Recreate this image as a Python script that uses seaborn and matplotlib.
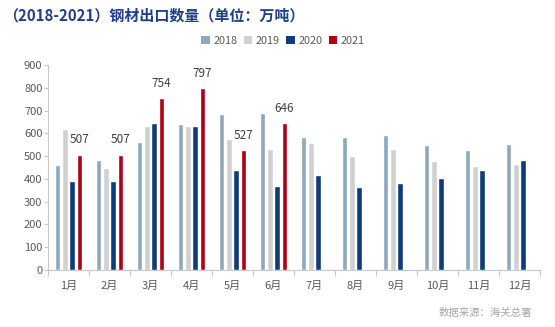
import numpy as np
import pandas as pd
import matplotlib
matplotlib.use("Agg")
import matplotlib.pyplot as plt
import seaborn as sns
from matplotlib.patches import Patch

months = ["1月", "2月", "3月", "4月", "5月", "6月", "7月", "8月", "9月", "10月", "11月", "12月"]
years = ["2018", "2019", "2020", "2021"]
v2018 = [462, 484, 563, 641, 683, 691, 586, 586, 594, 550, 528, 555]
v2019 = [620, 449, 633, 633, 577, 533, 559, 502, 533, 480, 458, 467]
v2020 = [392, 392, 646, 633, 440, 370, 418, 365, 383, 405, 440, 484]
v2021 = [507, 507, 754, 797, 527, 646, np.nan, np.nan, np.nan, np.nan, np.nan, np.nan]
colors = ["#8DA9BF", "#D0D0D0", "#0E3B7C", "#B00012"]
title = "（2018-2021）钢材出口数量（单位：万吨）"
source = "数据来源：海关总署"

rows = []
for y, vals in zip(years, [v2018, v2019, v2020, v2021]):
    for m, v in zip(months, vals):
        rows.append({"月份": m, "年份": y, "数量": v})
df = pd.DataFrame(rows)

sns.set_theme(style="white")
plt.rcParams['font.family'] = ['Noto Sans CJK SC', 'DejaVu Sans']

W, H = 555, 327
fig = plt.figure(figsize=(W / 100, H / 100), dpi=100)
ax = fig.add_axes([48 / W, (H - 270) / H, (540 - 48) / W, (270 - 65) / H])

sns.barplot(data=df, x="月份", y="数量", hue="年份", order=months, hue_order=years,
            palette=colors, width=0.71, gap=0.2, ax=ax, legend=False,
            saturation=1, errorbar=None)

ax.set_ylim(0, 900)
ax.set_xlim(-0.5, 11.5)
ax.set_yticks(range(0, 901, 100))
ax.set_xlabel("")
ax.set_ylabel("")
for s in ["top", "right"]:
    ax.spines[s].set_visible(False)
for s in ["left", "bottom"]:
    ax.spines[s].set_color("#C8C8C8")
    ax.spines[s].set_linewidth(0.8)
ax.tick_params(axis="y", labelsize=8, colors="#C8C8C8", labelcolor="#595959",
               length=3, width=0.8, pad=1, left=True)
ax.tick_params(axis="x", which="major", labelsize=8, labelcolor="#595959",
               length=0, pad=8)
ax.set_xticks(np.arange(-0.5, 12, 1), minor=True)
ax.tick_params(axis="x", which="minor", length=4, width=0.8, colors="#C8C8C8", bottom=True)

# data labels for 2021 bars
cont = ax.containers[3]
for bar in cont:
    if bar is None:
        continue
    h = bar.get_height()
    if h is None or np.isnan(h) or h == 0:
        continue
    ax.annotate(f"{int(round(h))}", (bar.get_x() + bar.get_width() / 2, h),
                xytext=(0, 6), textcoords="offset points", ha="center", va="bottom",
                fontsize=8.5, color="#404040")

fig.text(3 / W, 1 - 15 / H, title, fontsize=10.8, fontweight="bold",
         color="#1F3F8A", va="center", ha="left")
handles = [Patch(facecolor=c, edgecolor="none") for c in colors]
fig.legend(handles, years, loc="center", bbox_to_anchor=(283 / W, 1 - 41 / H),
           ncol=4, frameon=False, fontsize=7.8, handlelength=0.8, handleheight=0.8,
           columnspacing=0.6, handletextpad=0.3, labelcolor="#595959")
fig.text(532 / W, 1 - 313 / H, source, fontsize=7.5, color="#A6A6A6",
         ha="right", va="center")

fig.savefig("out.png", dpi=100, facecolor="white")
